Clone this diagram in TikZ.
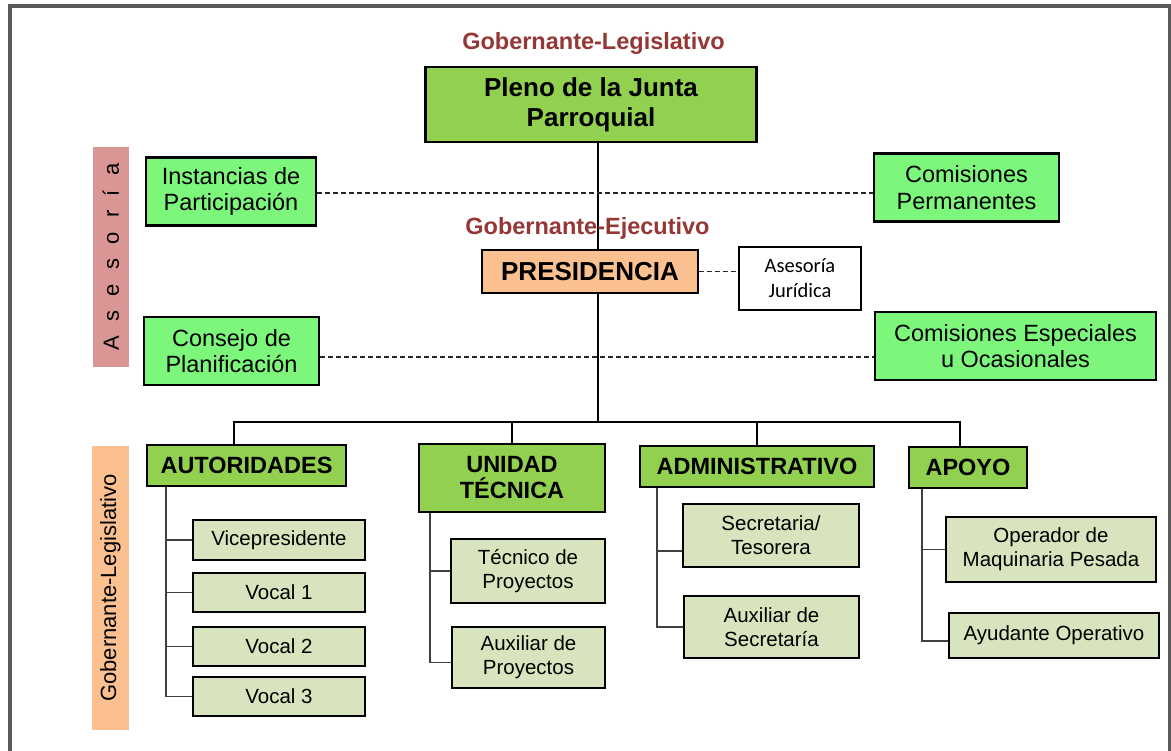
\documentclass[tikz,border=0pt]{standalone}
\usepackage{fontspec}
\setmainfont{Liberation Sans}
\newfontfamily\carlito{Carlito}
\usetikzlibrary{positioning, calc}
\tikzset{
  unit/.style={draw=black,line width=2.7pt,inner sep=0pt,align=center},
  plenobox/.style={unit,fill=junta_green,minimum width=331,minimum height=75,font=\bfseries\fontsize{26}{30}\selectfont},
  presbox/.style={unit,fill=junta_peach,minimum width=216,minimum height=43,font=\bfseries\fontsize{26}{30}\selectfont},
  advisor/.style={unit,fill=junta_lime,minimum height=68,font=\fontsize{23.5}{26.5}\selectfont},
  legal/.style={unit,line width=2pt,fill=white,minimum width=122,minimum height=63,font=\carlito\fontsize{20.5}{25}\selectfont},
  area/.style={unit,fill=junta_green,minimum height=41,font=\bfseries\fontsize{23.5}{26}\selectfont},
  staff/.style={unit,fill=junta_pale,font=\fontsize{20.5}{24}\selectfont},
  level/.style={text=junta_red,anchor=base,font=\bfseries\fontsize{23.5}{27}\selectfont},
  band/.style={inner sep=0pt,rotate=90,font=\fontsize{22}{26}\selectfont},
  link/.style={line width=2pt,black},
  sublink/.style={line width=1.3pt,black!75},
  dotlink/.style={line width=1.3pt,black!85,dash pattern=on 5pt off 3pt},
}
\pgfdeclarelayer{back}
\pgfsetlayers{back,main}
\definecolor{junta_green}{HTML}{92D050}
\definecolor{junta_lime}{HTML}{7CF77C}
\definecolor{junta_pale}{HTML}{D7E4BD}
\definecolor{junta_peach}{HTML}{FAC090}
\definecolor{junta_rose}{HTML}{D99694}
\definecolor{junta_red}{HTML}{953735}
\definecolor{junta_frame}{HTML}{5A5A5A}
\newcommand\ls{\hspace{14.3pt}}

\begin{document}
\begin{tikzpicture}[x=1pt,y=-1pt]
	    \useasboundingbox (0,0) rectangle (1171,751);
	    \draw[line width=4pt,junta_frame] (10,6.5) rectangle (1170,800);
	    % gobierno
	    \node[level] (gleg) at (593.5,50) {Gobernante-Legislativo};
	    \node[plenobox] (pleno) at (591,104.5) {Pleno de la Junta\\Parroquial};
	    \node[level] (gejec) at (587.5,235) {Gobernante-Ejecutivo};
	    \node[presbox] (pres) at (590,271.5) {PRESIDENCIA};
	    \node[legal] (jurid) at (800,278.5) {Asesoría\\Jurídica};
	    % asesoria
	    \node[band,fill=junta_rose,minimum width=220,minimum height=36] (asesoria) at (111,257) {A\ls s\ls e\ls s\ls o\ls r\ls í\ls a};
	    \node[advisor,minimum width=170] (instancias) at (231,191.5) {Instancias de\\Participación};
	    \node[advisor,minimum width=175] (consejo) at (231.5,351) {Consejo de\\Planificación};
	    \node[advisor,minimum width=185] (comperm) at (966.5,187.5) {Comisiones\\Permanentes};
	    \node[advisor,minimum width=281] (comesp) at (1015.5,346) {Comisiones Especiales\\u Ocasionales};
	    % areas
	    \node[band,fill=junta_peach,minimum width=284,minimum height=37] (goblegis) at (110.5,588) {Gobernante-Legislativo};
	    \node[area,minimum width=199] (autor) at (246.5,465.5) {AUTORIDADES};
	    \node[area,minimum width=186,minimum height=68] (unidad) at (512,478) {UNIDAD\\TÉCNICA};
	    \node[area,minimum width=234] (admin) at (757,466.5) {ADMINISTRATIVO};
	    \node[area,minimum width=118] (apoyo) at (968,467.5) {APOYO};
	    \node[staff,minimum width=172,minimum height=40] (vice) at (279,540) {Vicepresidente};
	    \node[staff,minimum width=172,minimum height=39] (vocal1) at (279,592.5) {Vocal 1};
	    \node[staff,minimum width=172,minimum height=39] (vocal2) at (279,646.5) {Vocal 2};
	    \node[staff,minimum width=172,minimum height=39] (vocal3) at (279,696.5) {Vocal 3};
	    \node[staff,minimum width=154,minimum height=64] (tecnico) at (528,571) {Técnico de\\Proyectos};
	    \node[staff,minimum width=153,minimum height=61] (auxproy) at (528.5,657.5) {Auxiliar de\\Proyectos};
	    \node[staff,minimum width=176,minimum height=63] (secret) at (771,535.5) {Secretaria/\\Tesorera};
	    \node[staff,minimum width=175,minimum height=62] (auxsec) at (771.5,627) {Auxiliar de\\Secretaría};
	    \node[staff,minimum width=210,minimum height=65] (operador) at (1051,549.5) {Operador de\\Maquinaria Pesada};
	    \node[staff,minimum width=210,minimum height=45] (ayudante) at (1054,635.5) {Ayudante Operativo};
	    \coordinate (bus) at (598,422);
	    \coordinate (ta) at (166,0);
	    \coordinate (tu) at (430,0);
	    \coordinate (td) at (657,0);
	    \coordinate (tp) at (922,0);
	    \begin{pgfonlayer}{back}
	    \draw[link] (pleno.south -| bus) -- (bus);
	    \draw[link] ([xshift=-12.5pt]autor.north) |- (bus) -| ([xshift=-8pt]apoyo.north);
	    \draw[link] (unidad.north) -- (unidad.north |- bus);
	    \draw[link] (admin.north) -- (admin.north |- bus);
	    \draw[dotlink] ([yshift=-1.5pt]instancias.east) -- ([yshift=-1.5pt]instancias.east -| comperm.west);
	    \draw[dotlink] ([yshift=-6pt]consejo.east) -- ([yshift=-6pt]consejo.east -| comesp.west);
	    \draw[dotlink] (pres.east) -- (pres.east -| jurid.west);
	    \draw[sublink] (autor.south -| ta) |- (vocal3.west);
	    \foreach \n in {vice,vocal1,vocal2}
	        \draw[sublink] (\n.west -| ta) -- (\n.west);
	    \draw[sublink] (unidad.south -| tu) |- ([yshift=-5pt]auxproy.west);
	    \draw[sublink] (tecnico.west -| tu) -- (tecnico.west);
	    \draw[sublink] (admin.south -| td) |- (auxsec.west);
	    \draw[sublink] ([yshift=-15.5pt]secret.west -| td) -- ([yshift=-15.5pt]secret.west);
	    \draw[sublink] (apoyo.south -| tp) |- ([yshift=-5.5pt]ayudante.west);
	    \draw[sublink] (operador.west -| tp) -- (operador.west);
	    \end{pgfonlayer}
	\end{tikzpicture}
\end{document}
